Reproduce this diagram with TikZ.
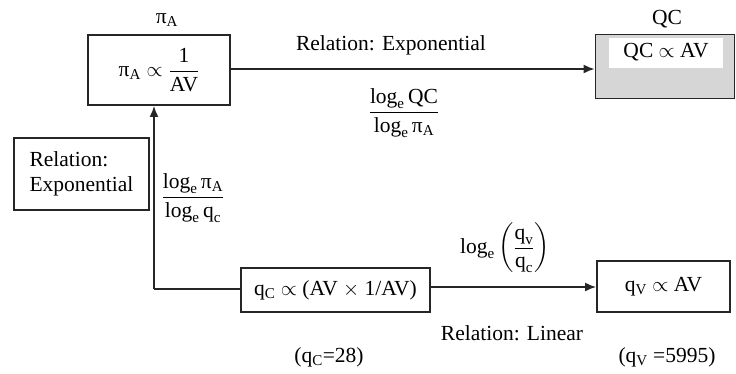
\documentclass[tikz,border=0pt]{standalone}
\usepackage{amsmath}
\usepackage{fontspec}
\setmainfont{Liberation Serif}
\usetikzlibrary{arrows.meta}
\definecolor{ln}{RGB}{38,38,38}
\definecolor{qcgray}{RGB}{214,214,214}
\newcommand{\upi}{\text{π}}
\newcommand{\lge}{\text{log}_{\text{e}}}
\begin{document}
\begin{tikzpicture}[x=1pt,y=-1pt,
  every node/.style={font=\fontsize{21.5}{25}\selectfont, text=black, inner sep=0pt},
  box/.style={draw=ln, line width=1.9pt, rectangle},
  conn/.style={draw=ln, line width=1.6pt},
  arr/.style={conn, -{Latex[length=11pt,width=9pt]}}]
\useasboundingbox (0,0) rectangle (736,373);
\fill[white] (0,0) rectangle (736,373);
% top left box
\node[box, minimum width=142pt, minimum height=70pt] (pa) at (159,70) {$\upi_{\text{A}} \propto \dfrac{\text{1}}{\text{AV}}$};
\node (palab) at (167,20) {$\upi_{\text{A}}$};
% QC box
\node[box, fill=qcgray, minimum width=139pt, minimum height=64pt] (qc) at (665,66.5) {};
\node[fill=white, minimum width=114pt, minimum height=30pt] (qcin) at (666,52.5) {QC $\propto$ AV};
\node (qclab) at (667,19) {QC};
% left relation box
\node[box, minimum width=135pt, minimum height=72pt, align=left] (rel) at (81.5,174) {Relation:\\Exponential};
% bottom boxes
\node[box, minimum width=189pt, minimum height=44pt] (qcb) at (335.5,290) {q\textsubscript{C} $\propto$ (AV $\times$ 1/AV)};
\node[box, minimum width=133pt, minimum height=51pt] (qv) at (663.5,286.5) {q\textsubscript{V} $\propto$ AV};
% connectors
\draw[arr] (pa.east |- 0,69) coordinate (pae) -- (pae -| qc.west);
\coordinate (corner) at (154,289);
\draw[conn] (qcb.west |- corner) -- (corner);
\draw[arr] (corner) -- (corner |- pa.south);
\draw[arr] (qcb.east |- 0,287) coordinate (qce) -- (qce -| qv.west);
% labels
\node (l1) at (391,45) {Relation: Exponential};
\node (f1) at (404,113) {$\dfrac{\lge\,\text{QC}}{\rule{0pt}{17pt}\lge\,\upi_{\text{A}}}$};
\node (f2) at (193,198) {$\dfrac{\lge\,\upi_{\text{A}}}{\rule{0pt}{17pt}\lge\,\text{q}_{\text{c}}}$};
\node (f3) at (505,248) {$\lge\left(\dfrac{\text{q}_{\text{v}}}{\text{q}_{\text{c}}}\right)$};
\node (l2) at (512,333) {Relation: Linear};
\node (v1) at (329,357) {(q\textsubscript{C}=28)};
\node (v2) at (667,357) {(q\textsubscript{V} =5995)};
\end{tikzpicture}
\end{document}
